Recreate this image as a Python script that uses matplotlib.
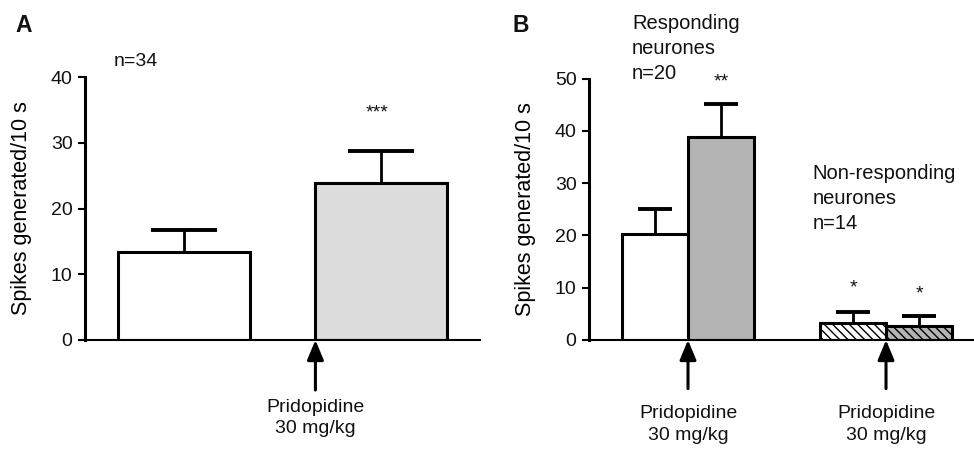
import numpy as np
import matplotlib as mpl
mpl.use('Agg')
import matplotlib.pyplot as plt

plt.rcParams['font.family'] = ['Liberation Sans', 'DejaVu Sans']
plt.rcParams['hatch.linewidth'] = 1.0
plt.rcParams['text.color'] = '#111111'

# panel A: all neurones
a_pos = [1.5, 4.5]
a_means = [13.4, 23.9]
a_sem = [3.3, 4.8]
a_colors = ['white', '#dcdcdc']
a_stars = ['', '***']

# panel B: responding / non-responding neurones
b_pos = [1, 2, 4, 5]
b_means = [20.3, 38.9, 3.2, 2.7]
b_sem = [4.7, 6.2, 2.1, 1.9]
b_colors = ['white', '#b4b4b4', 'white', '#b4b4b4']
b_hatch = ['', '', '\\\\\\\\', '\\\\\\\\']
b_stars = ['', '**', '*', '*']

resp_lines = ['Responding', 'neurones', 'n=20']
nonresp_lines = ['Non-responding', 'neurones', 'n=14']

drug_label = 'Pridopidine\n30 mg/kg'
ylab = 'Spikes generated/10 s'

W, H = 974, 449
fig = plt.figure(figsize=(W / 100, H / 100), dpi=100)
axA = fig.add_axes([85 / W, 109 / H, 395 / W, 263 / H])
axB = fig.add_axes([589 / W, 109 / H, 385 / W, 261.3 / H])


def style(ax, xmax, ymax, step):
    ax.set_xlim(0, xmax)
    ax.set_ylim(0, ymax)
    ax.set_yticks(np.arange(0, ymax + 1, step))
    ax.set_xticks([])
    for s in ['top', 'right']:
        ax.spines[s].set_visible(False)
    ax.spines['left'].set_linewidth(2.2)
    ax.spines['bottom'].set_linewidth(1.5)
    ax.tick_params(axis='y', length=5, width=1.5, pad=4, labelsize=14,
                   labelcolor='#111111')
    ax.set_ylabel(ylab, fontsize=15.5)


def cap_pts(ax, width):
    # cap is half the bar width, capsize is half the cap length (points)
    bb = ax.get_position()
    ax_w = bb.width * fig.get_figwidth() * 72
    x0, x1 = ax.get_xlim()
    return width * ax_w / (x1 - x0) / 4


def bars(ax, pos, means, sem, colors, hatches, width):
    ax.bar(pos, means, width=width, color=colors, edgecolor='black',
           linewidth=2.2, hatch=hatches, zorder=2)
    _, caps, _ = ax.errorbar(pos, means, yerr=[np.zeros(len(sem)), sem],
                             fmt='none', ecolor='black', elinewidth=2.0,
                             capthick=2.8, capsize=cap_pts(ax, width), zorder=1)
    caps[0].set_visible(False)  # no cap sitting on the bar top


def arrow(ax, x, down, text_off):
    ax.annotate('', xy=(x, 0), xytext=(0, -down), textcoords='offset points',
                arrowprops=dict(arrowstyle='-|>,head_length=1.2,head_width=0.5',
                                lw=2.2, color='black', shrinkA=0, shrinkB=0,
                                mutation_scale=10),
                annotation_clip=False)
    ax.annotate(drug_label, xy=(x, 0), xytext=(0, -text_off),
                textcoords='offset points', ha='center', va='center',
                fontsize=14, linespacing=1.35, annotation_clip=False)


def stacked(ax, x, y, lines, step=18):
    # one text per line, baseline of the last line at (x, y)
    n = len(lines)
    for i, t in enumerate(lines):
        ax.annotate(t, xy=(x, y), xytext=(0, (n - 1 - i) * step),
                    textcoords='offset points', fontsize=14.5,
                    ha='left', va='baseline', annotation_clip=False)


# --- A ---
style(axA, 6, 40, 10)
bars(axA, a_pos, a_means, a_sem, a_colors, ['', ''], 2)
for x, m, e, s in zip(a_pos, a_means, a_sem, a_stars):
    if s:
        axA.annotate(s, xy=(x, m + e), xytext=(-3, 24.5), textcoords='offset points',
                     ha='center', va='baseline', fontsize=14)
arrow(axA, 3.5, 36, 56)
axA.text(0.43, 42.3, 'n=34', fontsize=14, va='center', ha='left', clip_on=False)
fig.text(15 / W, 1 - 25 / H, 'A', fontsize=16.5, fontweight='bold', va='center')
axA.yaxis.set_label_coords(-0.133, 0.5)

# --- B ---
style(axB, 5.833, 50, 10)
bars(axB, b_pos, b_means, b_sem, b_colors, b_hatch, 1)
b_star_off = [0, 12.5, 14.5, 12.5]
for x, m, e, s, off in zip(b_pos, b_means, b_sem, b_stars, b_star_off):
    if s:
        axB.annotate(s, xy=(x, m + e), xytext=(0, off), textcoords='offset points',
                     ha='center', va='baseline', fontsize=14)
arrow(axB, 1.5, 35, 61)
arrow(axB, 4.5, 35, 61)
stacked(axB, 0.65, 50.0, resp_lines)
stacked(axB, 3.39, 21.2, nonresp_lines)
fig.text(512 / W, 1 - 25 / H, 'B', fontsize=16.5, fontweight='bold', va='center')
axB.yaxis.set_label_coords(-0.137, 0.5)

fig.savefig('out.png', dpi=100)
